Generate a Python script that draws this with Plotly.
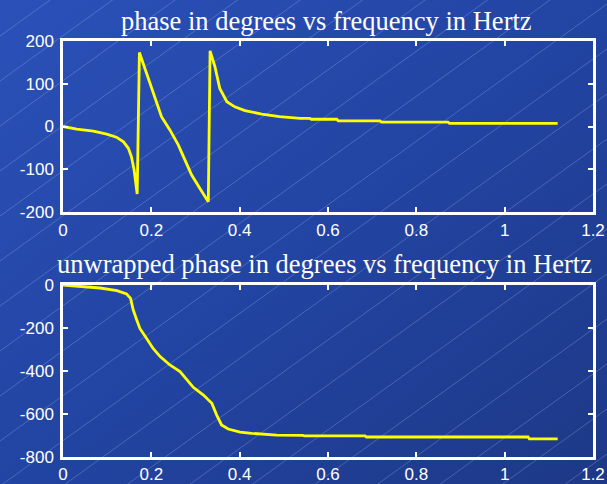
import base64
import plotly.graph_objects as go

# ---------------- data ----------------
freq_wrapped = [0.0, 0.031, 0.069, 0.099, 0.121, 0.137, 0.148, 0.155, 0.161, 0.168,
                0.173, 0.193, 0.208, 0.218, 0.223, 0.242, 0.261, 0.276, 0.291, 0.310, 0.329,
                0.333, 0.344, 0.355, 0.371, 0.389, 0.412, 0.450, 0.490, 0.537,
                0.559, 0.562, 0.620, 0.623, 0.718, 0.721, 0.872, 0.875, 1.12]
phase_wrapped = [0, -6, -11, -18, -25, -36, -51, -71, -102, -158,
                 173, 113, 70, 35, 23, -8, -43, -78, -113, -145, -176,
                 177, 140, 89, 58, 46, 37, 29, 23, 19,
                 19, 17, 17, 13, 13, 10, 10, 7.5, 7.5]

freq_unwrapped = [0.0, 0.038, 0.084, 0.122, 0.144, 0.153, 0.159, 0.167, 0.174, 0.189,
                  0.204, 0.220, 0.242, 0.265, 0.280, 0.295, 0.318, 0.337, 0.348, 0.359,
                  0.374, 0.401, 0.427, 0.446, 0.484, 0.543, 0.546, 0.684, 0.687, 1.053,
                  1.056, 1.12]
phase_unwrapped = [0, -5, -14, -26, -42, -62, -116, -163, -202, -248,
                   -295, -333, -372, -403, -442, -476, -512, -550, -605, -651,
                   -670, -684, -690, -693, -698, -699, -702, -702, -707, -707,
                   -716, -716]

x_ticks = [0, 0.2, 0.4, 0.6, 0.8, 1, 1.2]
x_labels = ["0", "0.2", "0.4", "0.6", "0.8", "1", "1.2"]
y_ticks_top = [-200, -100, 0, 100, 200]
y_labels_top = ["-200", "-100", "0", "100", "200"]
y_ticks_bottom = [-800, -600, -400, -200, 0]
y_labels_bottom = ["-800", "-600", "-400", "-200", "0"]
title_top = "phase in degrees vs frequency in Hertz"
title_bottom = "unwrapped phase in degrees vs frequency in Hertz"

# ---------------- background (gradient + faint diagonal lines) ----------------
W, H = 607, 484
lines = []
for k in range(-12, 20):
    b = 441 - 45 * k
    x0, y0 = 0, b
    x1, y1 = W, b - 0.72 * W
    lines.append(f'<line x1="{x0}" y1="{y0}" x2="{x1}" y2="{y1:.1f}" '
                 f'stroke="rgb(170,190,240)" stroke-opacity="0.3" stroke-width="1"/>')
svg = (f'<svg xmlns="http://www.w3.org/2000/svg" width="{W}" height="{H}" viewBox="0 0 {W} {H}">'
       '<defs><linearGradient id="g" x1="0" y1="0" x2="1" y2="1">'
       '<stop offset="0" stop-color="#2b51b9"/>'
       '<stop offset="0.5" stop-color="#2244a2"/>'
       '<stop offset="1" stop-color="#1d3886"/>'
       '</linearGradient></defs>'
       f'<rect x="0" y="0" width="{W}" height="{H}" fill="url(#g)"/>'
       + "".join(lines) + '</svg>')
svg_uri = "data:image/svg+xml;base64," + base64.b64encode(svg.encode()).decode()

# ---------------- figure ----------------
fig = go.Figure()
line_style = dict(color="#ffff00", width=2.8)
fig.add_trace(go.Scatter(x=freq_wrapped, y=phase_wrapped, mode="lines",
                         line=line_style, xaxis="x", yaxis="y", showlegend=False,
                         hoverinfo="skip"))
fig.add_trace(go.Scatter(x=freq_unwrapped, y=phase_unwrapped, mode="lines",
                         line=line_style, xaxis="x2", yaxis="y2", showlegend=False,
                         hoverinfo="skip"))

tick_font = dict(family="Liberation Sans, Arial, sans-serif", size=17, color="white")
ax_common = dict(showgrid=False, zeroline=False, showline=True, linecolor="white",
                 linewidth=2.5, mirror="ticks", ticks="inside", ticklen=5,
                 tickwidth=2, tickcolor="white", tickfont=tick_font, automargin=False)
title_font = dict(family="Liberation Serif, Times New Roman, serif", size=26.5, color="white")

xd = [63 / W, 593 / W]
fig.update_layout(
    width=W, height=H, autosize=False,
    margin=dict(l=0, r=0, t=0, b=0, pad=0),
    paper_bgcolor="#2244a2",
    plot_bgcolor="rgba(0,0,0,0)",
    images=[dict(source=svg_uri, xref="paper", yref="paper", x=0, y=1,
                 sizex=1, sizey=1, sizing="stretch", layer="below",
                 xanchor="left", yanchor="top")],
    xaxis=dict(domain=xd, range=[0, 1.2], tickvals=x_ticks, ticktext=x_labels,
               anchor="y", ticklabelstandoff=1, **ax_common),
    yaxis=dict(domain=[1 - 212 / H, 1 - 41 / H], range=[-200, 200],
               tickvals=y_ticks_top, ticktext=y_labels_top,
               anchor="x", ticklabelstandoff=3, **ax_common),
    xaxis2=dict(domain=xd, range=[0, 1.2], tickvals=x_ticks, ticktext=x_labels,
                anchor="y2", ticklabelstandoff=0, **ax_common),
    yaxis2=dict(domain=[1 - 457 / H, 1 - 285 / H], range=[-800, 0],
                tickvals=y_ticks_bottom, ticktext=y_labels_bottom,
                anchor="x2", ticklabelstandoff=3, **ax_common),
    annotations=[
        dict(text=title_top, xref="paper", yref="paper", x=326 / W, y=1 - 21 / H,
             xanchor="center", yanchor="middle", showarrow=False, font=title_font),
        dict(text=title_bottom, xref="paper", yref="paper", x=325 / W, y=1 - 264 / H,
             xanchor="center", yanchor="middle", showarrow=False, font=title_font),
    ],
)

fig.write_html("out.html", config={"responsive": False, "displayModeBar": False},
               post_script="document.body.style.margin='0';document.body.style.padding='0';"
                           "document.documentElement.style.overflow='hidden';")
